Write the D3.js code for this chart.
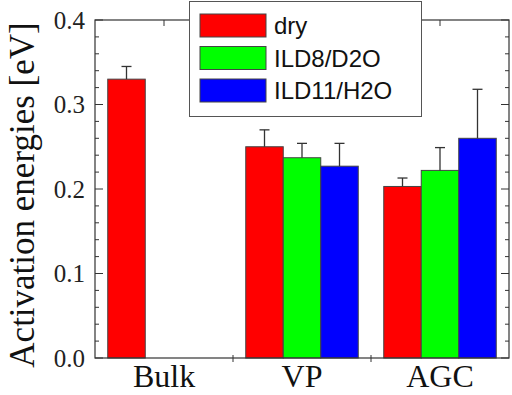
<!DOCTYPE html>
<html lang="en">
<head>
    <meta charset="UTF-8">
    <title>Activation energies</title>
    <script src="https://d3js.org/d3.v7.min.js"></script>
    <style>
        body { margin: 0; background: #fff; }
        svg { display: block; }
    </style>
    <script>
        let categories = ["Bulk", "VP", "AGC"];
        let seriesNames = ["dry", "ILD8/D2O", "ILD11/H2O"];
        let seriesColors = ["#ff0000", "#00ff00", "#0000ff"];

        // values per series, one per category (null = no bar)
        let dryValues = [0.330, 0.250, 0.203];
        let ild8Values = [null, 0.237, 0.222];
        let ild11Values = [null, 0.227, 0.260];

        // upper error bar length
        let dryErrors = [0.015, 0.020, 0.010];
        let ild8Errors = [null, 0.017, 0.027];
        let ild11Errors = [null, 0.027, 0.058];

        let yTickValues = [0.0, 0.1, 0.2, 0.3, 0.4];

        document.addEventListener("DOMContentLoaded", function() {
            drawChart();
        });

        function drawChart() {
            const width = 512, height = 395;
            const margins = {top: 20, right: 3, bottom: 37, left: 95};
            const axisColor = "#333";

            const svg = d3.select("svg")
                .attr("width", width)
                .attr("height", height);

            const series = [
                {name: seriesNames[0], color: seriesColors[0], values: dryValues, errors: dryErrors},
                {name: seriesNames[1], color: seriesColors[1], values: ild8Values, errors: ild8Errors},
                {name: seriesNames[2], color: seriesColors[2], values: ild11Values, errors: ild11Errors}
            ];

            const x = d3.scaleBand()
                .domain(categories)
                .range([margins.left, width - margins.right])
                .padding(0);

            const xSub = d3.scaleBand()
                .domain(seriesNames)
                .range([0, x.bandwidth()])
                .paddingInner(0)
                .paddingOuter(0.34);

            const y = d3.scaleLinear()
                .domain([0, 0.4])
                .range([height - margins.bottom, margins.top]);

            const x0 = margins.left, x1 = width - margins.right;
            const y0 = y(0), y1 = y(0.4);

            // bars
            let bars = [];
            series.forEach(function(s) {
                categories.forEach(function(c, i) {
                    if (s.values[i] != null) {
                        bars.push({cat: c, name: s.name, color: s.color, value: s.values[i], err: s.errors[i]});
                    }
                });
            });

            svg.append("g").selectAll("rect")
                .data(bars)
                .join("rect")
                .attr("x", d => x(d.cat) + xSub(d.name))
                .attr("y", d => y(d.value))
                .attr("width", xSub.bandwidth())
                .attr("height", d => y0 - y(d.value))
                .attr("fill", d => d.color)
                .attr("stroke", "#444")
                .attr("stroke-width", 1);

            // error bars (upper only)
            const eg = svg.append("g").attr("stroke", "#333").attr("stroke-width", 1.3);
            bars.forEach(function(d) {
                const cx = x(d.cat) + xSub(d.name) + xSub.bandwidth() / 2;
                eg.append("line")
                    .attr("x1", cx).attr("x2", cx)
                    .attr("y1", y(d.value)).attr("y2", y(d.value + d.err));
                eg.append("line")
                    .attr("x1", cx - 5).attr("x2", cx + 5)
                    .attr("y1", y(d.value + d.err)).attr("y2", y(d.value + d.err));
            });

            // y axis left and right, ticks inside
            const minorTicks = d3.range(0, 0.401, 0.02);
            const axisLeft = d3.axisLeft(y).tickValues(yTickValues).tickFormat(d3.format(".1f")).tickSize(0).tickPadding(10);
            const gl = svg.append("g")
                .attr("transform", `translate(${x0},0)`)
                .call(axisLeft);
            gl.select(".domain").remove();
            gl.selectAll("text")
                .attr("font-family", "'Liberation Serif', 'Times New Roman', serif")
                .attr("font-size", 25)
                .attr("fill", "#222");

            const tg = svg.append("g").attr("stroke", axisColor).attr("stroke-width", 1);
            minorTicks.forEach(function(t) {
                const major = Math.abs(t * 10 - Math.round(t * 10)) < 1e-6;
                const len = major ? 8 : 4;
                tg.append("line").attr("x1", x0).attr("x2", x0 + len).attr("y1", y(t)).attr("y2", y(t));
                tg.append("line").attr("x1", x1).attr("x2", x1 - len).attr("y1", y(t)).attr("y2", y(t));
            });

            // x axis bottom: ticks at category boundaries
            const xAxis = d3.axisBottom(x).tickSize(0).tickPadding(0);
            const gb = svg.append("g")
                .attr("transform", `translate(0,${y0})`)
                .call(xAxis);
            gb.select(".domain").remove();
            gb.selectAll("text")
                .attr("font-family", "'Liberation Serif', 'Times New Roman', serif")
                .attr("font-size", 32)
                .attr("fill", "#111")
                .attr("y", 29)
                .attr("dy", 0);
            categories.slice(1).forEach(function(c) {
                tg.append("line").attr("x1", x(c)).attr("x2", x(c)).attr("y1", y0 - 3).attr("y2", y0 + 4);
            });
            // top ticks at category centres
            categories.forEach(function(c) {
                const cx = x(c) + x.bandwidth() / 2;
                tg.append("line").attr("x1", cx).attr("x2", cx).attr("y1", y1).attr("y2", y1 + 6);
            });

            // frame
            svg.append("rect")
                .attr("x", x0).attr("y", y1)
                .attr("width", x1 - x0).attr("height", y0 - y1)
                .attr("fill", "none")
                .attr("stroke", axisColor)
                .attr("stroke-width", 1.2);

            // y title
            svg.append("text")
                .attr("transform", `translate(34,195) rotate(-90)`)
                .attr("text-anchor", "middle")
                .attr("font-family", "'Liberation Serif', 'Times New Roman', serif")
                .attr("font-size", 35)
                .attr("fill", "#111")
                .text("Activation energies [eV]");

            // legend
            const legend = svg.append("g");
            legend.append("rect")
                .attr("x", 189.5).attr("y", 1.5)
                .attr("width", 232).attr("height", 115)
                .attr("fill", "#fff")
                .attr("stroke", "#555")
                .attr("stroke-width", 1);
            series.forEach(function(s, i) {
                const ly = 14 + i * 32.5;
                legend.append("rect")
                    .attr("x", 200).attr("y", ly)
                    .attr("width", 66).attr("height", 23)
                    .attr("fill", s.color)
                    .attr("stroke", "#444")
                    .attr("stroke-width", 1);
                legend.append("text")
                    .attr("x", 274).attr("y", ly + 20)
                    .attr("font-family", "'Liberation Sans', Arial, sans-serif")
                    .attr("font-size", 24)
                    .attr("fill", "#111")
                    .text(s.name);
            });
        }
    </script>
</head>
<body>
    <svg></svg>
</body>
</html>
